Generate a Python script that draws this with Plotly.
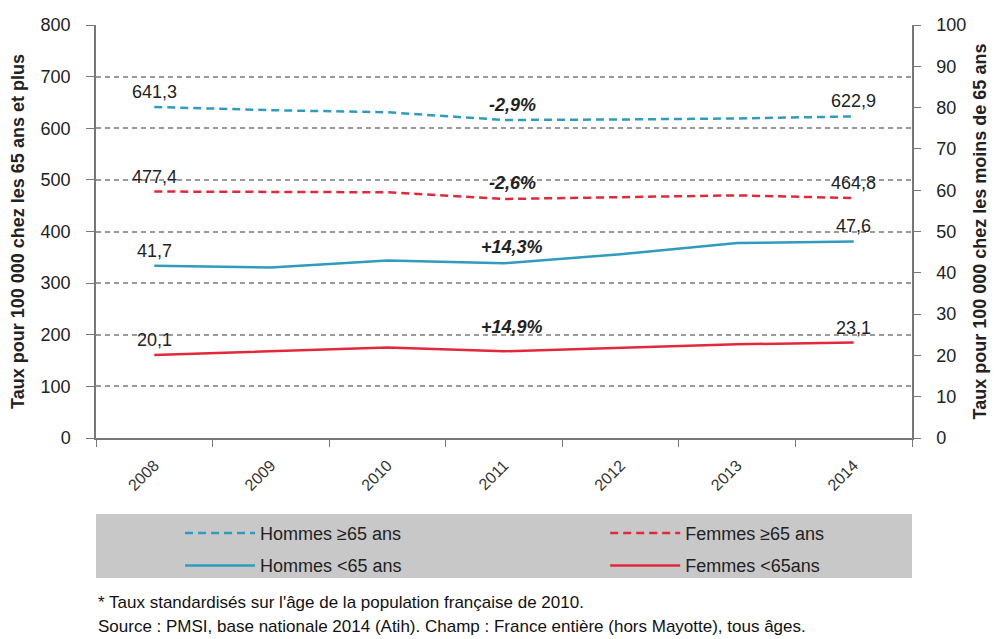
import plotly.graph_objects as go

years = ["2008", "2009", "2010", "2011", "2012", "2013", "2014"]
hommes_65plus = [641.3, 635.0, 631.0, 616.0, 617.0, 619.0, 622.9]
femmes_65plus = [477.4, 476.0, 476.0, 463.0, 466.0, 470.0, 464.8]
hommes_moins65 = [41.7, 41.3, 43.0, 42.3, 44.5, 47.2, 47.6]
femmes_moins65 = [20.1, 21.0, 21.9, 21.0, 21.9, 22.7, 23.1]
evolution_labels = ["-2,9%", "-2,6%", "+14,3%", "+14,9%"]
left_ticks = list(range(0, 801, 100))
right_ticks = list(range(0, 101, 10))

BLUE = "#2f9bbf"
RED = "#e2283a"
FONT = "Liberation Sans, Arial, sans-serif"
TXT = "#222222"

fig = go.Figure()
series = [
    ("Hommes ≥65 ans", hommes_65plus, BLUE, "8px,5px", "y", "legend"),
    ("Femmes ≥65 ans", femmes_65plus, RED, "8px,5px", "y", "legend2"),
    ("Hommes <65 ans", hommes_moins65, BLUE, "solid", "y2", "legend"),
    ("Femmes <65ans", femmes_moins65, RED, "solid", "y2", "legend2"),
]
for k, (name, vals, col, dash, ax, leg) in enumerate(series):
    fig.add_trace(go.Scatter(x=years, y=vals, name=name, mode="lines", yaxis=ax,
                             legend=leg, legendgroup=f"g{k}",
                             line=dict(color=col, width=2.5, dash=dash)))

def fmt(v):
    return f"{v:.1f}".replace(".", ",")

# value labels on first and last points
for name, vals, col, dash, ax, leg in series:
    for i in (0, len(years) - 1):
        fig.add_annotation(x=i, y=vals[i], xref="x", yref=ax, text=fmt(vals[i]),
                           showarrow=False, yanchor="bottom", yshift=3,
                           font=dict(family=FONT, size=18, color=TXT))

# evolution labels at 2011
shifts = [3, 4, 4, 12]
for (name, vals, col, dash, ax, leg), lab, sh in zip(series, evolution_labels, shifts):
    fig.add_annotation(x=3, y=vals[3], xref="x", yref=ax, text=f"<b><i>{lab}</i></b>",
                       showarrow=False, yanchor="bottom", yshift=sh, xshift=8,
                       font=dict(family=FONT, size=18, color=TXT))

# legend background
fig.add_shape(type="rect", xref="paper", yref="paper", x0=0, x1=1,
              y0=-0.3390, y1=-0.1840, fillcolor="#c8c8c8", line=dict(width=0), layer="below")

fig.add_annotation(xref="paper", yref="paper", x=0, y=-0.3995, xanchor="left", yanchor="middle",
                   text="* Taux standardisés sur l'âge de la population française de 2010.",
                   showarrow=False, font=dict(family=FONT, size=17, color="#111"))
fig.add_annotation(xref="paper", yref="paper", x=0, y=-0.4576, xanchor="left", yanchor="middle",
                   text="Source : PMSI, base nationale 2014 (Atih). Champ : France entière (hors Mayotte), tous âges.",
                   showarrow=False, font=dict(family=FONT, size=17, color="#111"))

legfont = dict(family=FONT, size=18, color=TXT)
fig.update_layout(
    width=991, height=631,
    margin=dict(l=88, r=87, t=17, b=201, autoexpand=False),
    paper_bgcolor="white", plot_bgcolor="white",
    font=dict(family=FONT, size=16, color=TXT),
    showlegend=True,
    legend=dict(orientation="v", x=0.103, y=-0.186, xanchor="left", yanchor="top",
                bgcolor="rgba(0,0,0,0)", font=legfont, itemwidth=70,
                traceorder="grouped", tracegroupgap=6),
    legend2=dict(orientation="v", x=0.624, y=-0.186, xanchor="left", yanchor="top",
                 bgcolor="rgba(0,0,0,0)", font=legfont, itemwidth=70,
                 traceorder="grouped", tracegroupgap=6),
    xaxis=dict(type="category", range=[-0.5, 6.5], tickson="boundaries", ticks="outside",
               ticklen=7, tickcolor="#777", showline=True, linecolor="#777", linewidth=1.5,
               showgrid=False, tickangle=-45, automargin=False, ticklabelstandoff=10,
               tickfont=dict(family=FONT, size=16, color="#333")),
    yaxis=dict(range=[0, 800], tickvals=left_ticks, ticks="outside", ticklen=8, tickcolor="#777",
               showline=True, linecolor="#777", linewidth=1.5, showgrid=True, gridcolor="#9a9a9a",
               griddash="5px,4px", gridwidth=1.5, zeroline=False, ticklabelstandoff=12,
               automargin=False,
               tickfont=dict(family=FONT, size=18, color=TXT),
               title=dict(text="<b>Taux pour 100 000 chez les 65 ans et plus</b>",
                          font=dict(family=FONT, size=18, color=TXT), standoff=14)),
    yaxis2=dict(range=[0, 100], tickvals=right_ticks, overlaying="y", side="right", ticks="outside",
                ticklen=7, tickcolor="#777", showline=True, linecolor="#777", linewidth=1.5,
                showgrid=False, zeroline=False, ticklabelstandoff=12, automargin=False,
                tickfont=dict(family=FONT, size=18, color=TXT),
                title=dict(text="<b>Taux pour 100 000 chez les moins de 65 ans</b>",
                           font=dict(family=FONT, size=18, color=TXT), standoff=8)),
)

fig.write_html("out.html")
